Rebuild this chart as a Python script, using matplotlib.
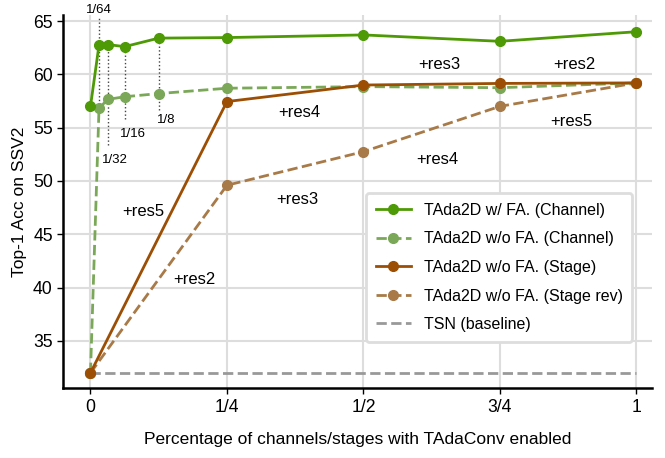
import matplotlib
matplotlib.use('Agg')
import matplotlib.pyplot as plt

plt.rcParams['font.family'] = ['Liberation Sans', 'DejaVu Sans']

# fraction of channels / stages with TAdaConv
x_channel = [0, 1/64, 1/32, 1/16, 1/8, 1/4, 1/2, 3/4, 1]
x_stage = [0, 1/4, 1/2, 3/4, 1]

acc_fa_channel = [57.0, 62.75, 62.8, 62.6, 63.4, 63.45, 63.7, 63.1, 64.0]
acc_nofa_channel = [32.0, 56.8, 57.65, 57.9, 58.2, 58.7, 58.85, 58.75, 59.2]
acc_stage = [32.0, 57.45, 59.0, 59.15, 59.2]
acc_stage_rev = [32.0, 49.6, 52.75, 57.0, 59.2]
tsn_baseline = 32.0

xtick_vals = [0, 0.25, 0.5, 0.75, 1]
xtick_labels = ['0', '1/4', '1/2', '3/4', '1']

# small fraction markers: label, x, y of label, line top, line bottom
frac_labels = ['1/64', '1/32', '1/16', '1/8']
frac_x = [1/64, 1/32, 1/16, 1/8]
frac_label_x = [1/64, 0.044, 0.077, 0.138]
frac_label_y = [66.0, 52.0, 54.4, 55.7]
frac_line_top = [65.5, 62.8, 62.6, 63.4]
frac_line_bot = [56.8, 53.4, 55.8, 56.7]

# stage annotations
stage_text = ['+res5', '+res4', '+res3', '+res2']
stage_text_x = [0.096, 0.383, 0.639, 0.886]
stage_text_y = [47.1, 56.4, 60.9, 60.9]
rev_text = ['+res2', '+res3', '+res4', '+res5']
rev_text_x = [0.19, 0.379, 0.635, 0.88]
rev_text_y = [40.8, 48.3, 52.0, 55.6]

c_green = '#4e9a06'
c_lgreen = '#7aa858'
c_brown = '#9c4f04'
c_lbrown = '#a87a48'
c_gray = '#999999'

fig = plt.figure(figsize=(6.65, 4.58), dpi=100)
ax = fig.add_axes([0.095, 0.152, 0.885, 0.816])

ax.plot(x_channel, acc_fa_channel, '-o', color=c_green, lw=2, ms=7,
        label='TAda2D w/ FA. (Channel)', zorder=5)
ax.plot(x_channel, acc_nofa_channel, '--o', color=c_lgreen, lw=2, ms=7,
        label='TAda2D w/o FA. (Channel)', zorder=4)
ax.plot(x_stage, acc_stage, '-o', color=c_brown, lw=2, ms=7,
        label='TAda2D w/o FA. (Stage)', zorder=4)
ax.plot(x_stage, acc_stage_rev, '--o', color=c_lbrown, lw=2, ms=7,
        label='TAda2D w/o FA. (Stage rev)', zorder=3)
ax.plot([0, 1], [tsn_baseline, tsn_baseline], '--', color=c_gray, lw=2,
        label='TSN (baseline)', zorder=2)

for lab, fx, lx, ly, top, bot in zip(frac_labels, frac_x, frac_label_x,
                                     frac_label_y, frac_line_top, frac_line_bot):
    ax.plot([fx, fx], [bot, top], ':', color='#444444', lw=1, zorder=1,
            clip_on=False)
    ax.text(lx, ly, lab, ha='center', va='center', fontsize=9.5, clip_on=False)

for t, tx, ty in zip(stage_text, stage_text_x, stage_text_y):
    ax.text(tx, ty, t, ha='center', va='center', fontsize=12)
for t, tx, ty in zip(rev_text, rev_text_x, rev_text_y):
    ax.text(tx, ty, t, ha='center', va='center', fontsize=12)

ax.set_xlim(-0.05, 1.028)
ax.set_ylim(30.55, 65.6)
ax.set_xticks(xtick_vals)
ax.set_xticklabels(xtick_labels)
ax.set_yticks([35, 40, 45, 50, 55, 60, 65])
ax.tick_params(labelsize=12.7, width=1, length=4)
ax.grid(True, color='#dddddd', lw=1.5)
ax.set_axisbelow(True)

for s in ['top', 'right']:
    ax.spines[s].set_visible(False)
for s in ['left', 'bottom']:
    ax.spines[s].set_linewidth(1.8)

ax.set_xlabel('Percentage of channels/stages with TAdaConv enabled',
              fontsize=12.5, labelpad=12)
ax.set_ylabel('Top-1 Acc on SSV2', fontsize=12.5)

leg = ax.legend(loc='lower right', bbox_to_anchor=(0.967, 0.125), fontsize=11.5,
                frameon=True, fancybox=True, handlelength=2.2,
                borderpad=0.6, labelspacing=0.85, borderaxespad=0)
leg.get_frame().set_edgecolor('#dddddd')
leg.get_frame().set_linewidth(2)
leg.get_frame().set_alpha(1)

fig.savefig('out.png', dpi=100)
